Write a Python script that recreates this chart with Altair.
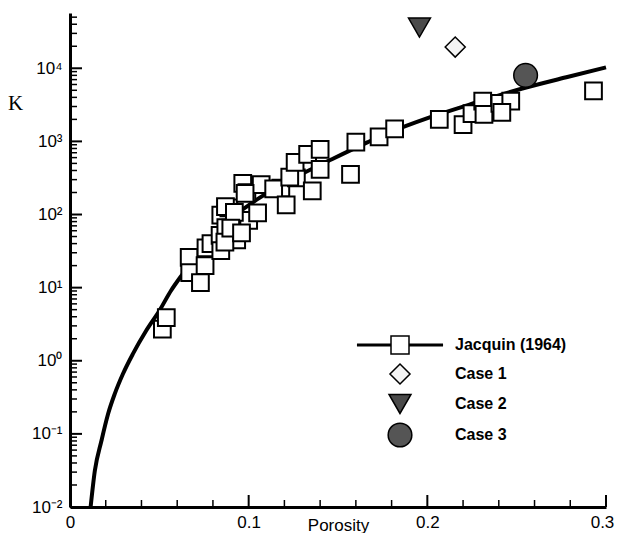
import altair as alt
import pandas as pd

# ---- data ----
sq_phi = [0.0517, 0.0539, 0.0667, 0.0670, 0.0730, 0.0756, 0.0761, 0.0789, 0.0840, 0.0844,
          0.0889, 0.0872, 0.0967, 0.0990, 0.0933, 0.0844, 0.1000, 0.0867, 0.1070, 0.0980,
          0.0870, 0.0920, 0.1050, 0.0900, 0.0960, 0.1180, 0.1267, 0.1140, 0.1210, 0.1230,
          0.1260, 0.1330, 0.1356, 0.1400, 0.1400, 0.1570, 0.1600, 0.1730, 0.1817, 0.2067,
          0.2200, 0.2250, 0.2310, 0.2317, 0.2406, 0.2467, 0.2417, 0.2930]
sq_k = [2.7, 3.9, 26, 16, 11.7, 20, 35, 40, 52, 98,
        123, 66, 267, 200, 45, 32, 83, 42, 257, 195,
        128, 107, 105, 65, 56, 230, 316, 225, 135, 325,
        515, 665, 210, 415, 780, 355, 980, 1150, 1480, 2000,
        1700, 2400, 3560, 2340, 3300, 3560, 2500, 4900]

curve_phi = [0.0115, 0.0139, 0.0176, 0.0213, 0.025, 0.0296, 0.0352, 0.0426, 0.050, 0.0565,
             0.063, 0.0833, 0.1056, 0.1278, 0.1444, 0.1667, 0.1778, 0.2017, 0.2278, 0.2517,
             0.2778, 0.300]
curve_k = [0.0098, 0.0313, 0.0805, 0.187, 0.350, 0.658, 1.24, 2.57, 4.83, 9.07,
           15.3, 63, 166, 339, 537, 977, 1290, 2140, 3430, 5160,
           7530, 10300]

legend_names = ["Jacquin (1964)", "Case 1", "Case 2", "Case 3"]
case_names = ["Case 1", "Case 2", "Case 3"]
case_phi = [0.2156, 0.1956, 0.255]
case_k = [19500, 36000, 8000]

x_major = [0.0, 0.1, 0.2, 0.3]
x_tick_labels = ["0", "0.1", "0.2", "0.3"]
x_minor = [0.02, 0.04, 0.06, 0.08, 0.12, 0.14, 0.16, 0.18, 0.22, 0.24, 0.26, 0.28]
y_major = [1e-2, 1e-1, 1e0, 1e1, 1e2, 1e3, 1e4]
y_tick_labels = ["10⁻²", "10⁻¹", "10⁰", "10¹", "10²", "10³", "10⁴"]
y_minor = [m * d for d in [1e-2, 1e-1, 1e0, 1e1, 1e2, 1e3, 1e4] for m in range(2, 10)
           if m * d < 57000]

# ---- layout / style ----
W, H = 536, 494
FONT = "Liberation Sans"

sq_df = pd.DataFrame({"phi": sq_phi, "K": sq_k})
curve_df = pd.DataFrame({"phi": curve_phi, "K": curve_k})
case_df = pd.DataFrame({"phi": case_phi, "K": case_k, "series": case_names})

xs = alt.Scale(domain=[0, 0.3], nice=False, zero=False)
ys = alt.Scale(type="log", domain=[0.01, 57000], nice=False)

x_label_expr = "[" + ",".join("'%s'" % s for s in x_tick_labels) + "][round(datum.value*10)]"
y_label_expr = "[" + ",".join("'%s'" % s for s in y_tick_labels) + "][round(log(datum.value)/LN10)+2]"

xaxis = alt.Axis(values=x_major, labelExpr=x_label_expr, ticks=False, tickSize=0,
                 domainColor="black", domainWidth=3, grid=False,
                 labelFont=FONT, labelFontSize=17, labelColor="black", labelPadding=7,
                 labelFlush=False, labelOverlap=False,
                 labelOffset={"condition": {"test": "datum.value > 0.29", "value": -4}, "value": 0},
                 title="Porosity", titleFont=FONT, titleFontSize=17, titleFontWeight="normal",
                 titleColor="black", titleY=10, titleBaseline="top")
yaxis = alt.Axis(values=y_major, labelExpr=y_label_expr, ticks=False, tickSize=0,
                 domainColor="black", domainWidth=3, grid=False,
                 labelFont=FONT, labelFontSize=17, labelColor="black", labelPadding=8,
                 labelFlush=False, labelOverlap=False, labelBaseline="middle",
                 title="K", titleFont="Liberation Serif", titleFontSize=21,
                 titleFontWeight="normal", titleColor="black", titleAngle=0,
                 titleX=-55, titleY=90, titleAlign="center", titleBaseline="middle")


def X(field="phi"):
    return alt.X(f"{field}:Q", scale=xs, axis=xaxis, title="Porosity")


def Y(field="K"):
    return alt.Y(f"{field}:Q", scale=ys, axis=yaxis, title="K")


jacquin_path = "M-4.7,-0.08H-1V0.08H-4.7Z M1,-0.08H4.7V0.08H1Z M-1,-1H1V1H-1Z"

curve = alt.Chart(curve_df).mark_line(color="black", strokeWidth=4, interpolate="monotone").encode(
    x=X(), y=Y())

squares = alt.Chart(sq_df).mark_point(shape="square", size=280, filled=True, fill="white",
                                      stroke="black", strokeWidth=2, opacity=1).encode(
    x=X(), y=Y())

leg = alt.Legend(title=None, orient="none", legendX=317, legendY=322, padding=0,
                 labelFont=FONT, labelFontSize=16, labelFontWeight="bold", labelColor="black",
                 labelOffset=42, rowPadding=3, symbolStrokeColor="black",
                 symbolStrokeWidth=1.5, labelLimit=300)

cases = alt.Chart(case_df).mark_point(filled=True, strokeWidth=1.5, opacity=1).encode(
    x=X(), y=Y(),
    shape=alt.Shape("series:N", legend=leg,
                    scale=alt.Scale(domain=legend_names,
                                    range=[jacquin_path, "diamond", "triangle-down", "circle"])),
    fill=alt.Fill("series:N", legend=leg,
                  scale=alt.Scale(domain=legend_names,
                                  range=["white", "#f4f4f4", "#4a4a4a", "#555555"])),
    stroke=alt.Stroke("series:N", legend=leg,
                      scale=alt.Scale(domain=legend_names,
                                      range=["black", "black", "black", "black"])),
    size=alt.Size("series:N", legend=leg,
                  scale=alt.Scale(domain=legend_names, range=[324, 560, 400, 600])),
)

ytick_major = alt.Chart(pd.DataFrame({"K": y_major})).mark_rule(color="black", strokeWidth=2).encode(
    y=Y(), x=alt.value(0), x2=alt.value(12))
ytick_minor = alt.Chart(pd.DataFrame({"K": y_minor})).mark_rule(color="black", strokeWidth=1.5).encode(
    y=Y(), x=alt.value(0), x2=alt.value(7))
xtick_major = alt.Chart(pd.DataFrame({"phi": x_major})).mark_rule(color="black", strokeWidth=2).encode(
    x=X(), y=alt.value(H), y2=alt.value(H - 12))
xtick_minor = alt.Chart(pd.DataFrame({"phi": x_minor})).mark_rule(color="black", strokeWidth=1.5).encode(
    x=X(), y=alt.value(H), y2=alt.value(H - 7))

chart = alt.layer(
    ytick_minor, ytick_major, xtick_minor, xtick_major, curve, squares, cases
).properties(
    width=W, height=H,
    autosize=alt.AutoSizeParams(type="none"),
    padding={"left": 62, "top": 5, "right": 10, "bottom": 26},
    background="white",
).configure_view(stroke=None)

chart.save("out.html", embed_options={"renderer": "svg", "actions": False})
